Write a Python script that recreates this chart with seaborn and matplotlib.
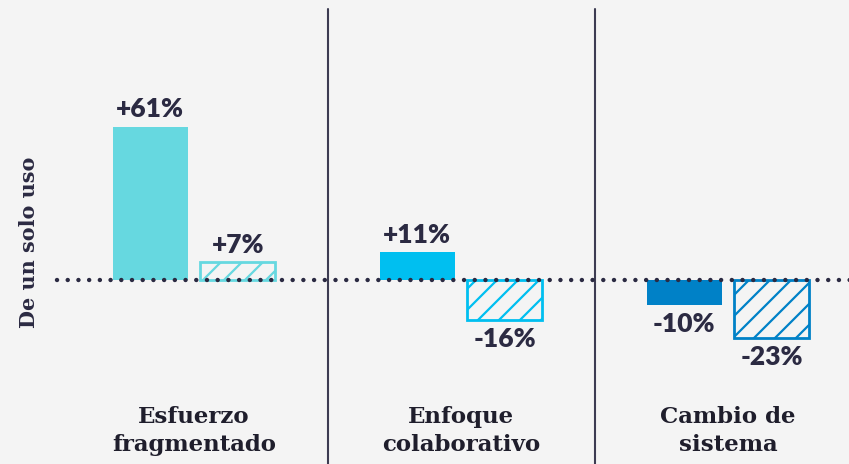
import matplotlib
matplotlib.use("Agg")
import matplotlib.pyplot as plt
import seaborn as sns
import pandas as pd

# Datos
categorias = ["Esfuerzo\nfragmentado", "Enfoque\ncolaborativo", "Cambio de\nsistema"]
tipos = ["Un solo uso", "Reutilizable"]
valores_solido = [61, 11, -10]
valores_rayado = [7, -16, -23]
etiquetas_solido = ["+61%", "+11%", "-10%"]
etiquetas_rayado = ["+7%", "-16%", "-23%"]
colores = ["#66d8e0", "#00bff0", "#0081c7"]

FONDO = "#f4f4f4"
TEXTO = "#2b2a42"

# La densidad del rayado depende de los dpi; se trabaja a 126 dpi y se
# escalan los tamaños en puntos para conservar las proporciones.
DPI = 126
K = 100 / DPI

df = pd.DataFrame({
    "categoria": categorias * 2,
    "tipo": [tipos[0]] * 3 + [tipos[1]] * 3,
    "valor": valores_solido + valores_rayado,
})

sns.set_theme(style="white")
plt.rcParams["hatch.linewidth"] = 1.6 * K

fig = plt.figure(figsize=(849 / DPI, 464 / DPI), dpi=DPI, facecolor=FONDO)
ax = fig.add_axes([0, 0, 1, 1])
ax.set_facecolor(FONDO)

sns.barplot(data=df, x="categoria", y="valor", hue="tipo", order=categorias,
            hue_order=tipos, width=0.656, gap=0.146, legend=False,
            errorbar=None, ax=ax)

cont_solido, cont_rayado = ax.containers[0], ax.containers[1]
for i, barra in enumerate(cont_solido):
    barra.set_facecolor(colores[i])
    barra.set_edgecolor(colores[i])
    barra.set_linewidth(0)
for i, barra in enumerate(cont_rayado):
    barra.set_facecolor("none")
    barra.set_edgecolor(colores[i])
    barra.set_hatch("//")
    barra.set_linewidth(2.0 * K)

# Etiquetas de valor
estilo = dict(ha="center", fontsize=19 * K, fontweight="heavy", color=TEXTO,
              family="Lato", textcoords="offset points")
for cont, etiquetas in ((cont_solido, etiquetas_solido), (cont_rayado, etiquetas_rayado)):
    for barra, txt in zip(cont, etiquetas):
        h = barra.get_height()
        x = barra.get_x() + barra.get_width() / 2
        if h >= 0:
            ax.annotate(txt, (x, h), xytext=(0, 4 * K), va="bottom", **estilo)
        else:
            ax.annotate(txt, (x, h), xytext=(0, -5 * K), va="top", **estilo)

# Línea de referencia punteada en cero
ax.plot([-0.5116, 2.46], [0, 0], color=TEXTO, lw=3.2 * K,
        linestyle=(0, (0.01, 2.4)), dash_capstyle="round", zorder=5)

# Separadores verticales
ymin, ymax = -73.2, 111.4
for xs in (0.5, 1.5):
    ax.plot([xs, xs], [ymin, 108.0], color="#3d3c52", lw=1.5 * K, zorder=1)

# Nombres de categoría
for i, cat in enumerate(categorias):
    ax.text(i, -50, cat, ha="center", va="top", fontsize=16.5 * K, fontweight="bold",
            family="DejaVu Serif", color="#1f1e2c", linespacing=1.38)

ax.text(-0.617, 15, "De un solo uso", rotation=90, ha="center", va="center",
        fontsize=15 * K, fontweight="bold", family="DejaVu Serif", color=TEXTO)

ax.set_xlim(-0.7266, 2.453)
ax.set_ylim(ymin, ymax)
ax.set_xlabel("")
ax.set_ylabel("")
ax.set_xticks([])
ax.set_yticks([])
for s in ax.spines.values():
    s.set_visible(False)

fig.savefig("out.png", dpi=DPI, facecolor=FONDO)
